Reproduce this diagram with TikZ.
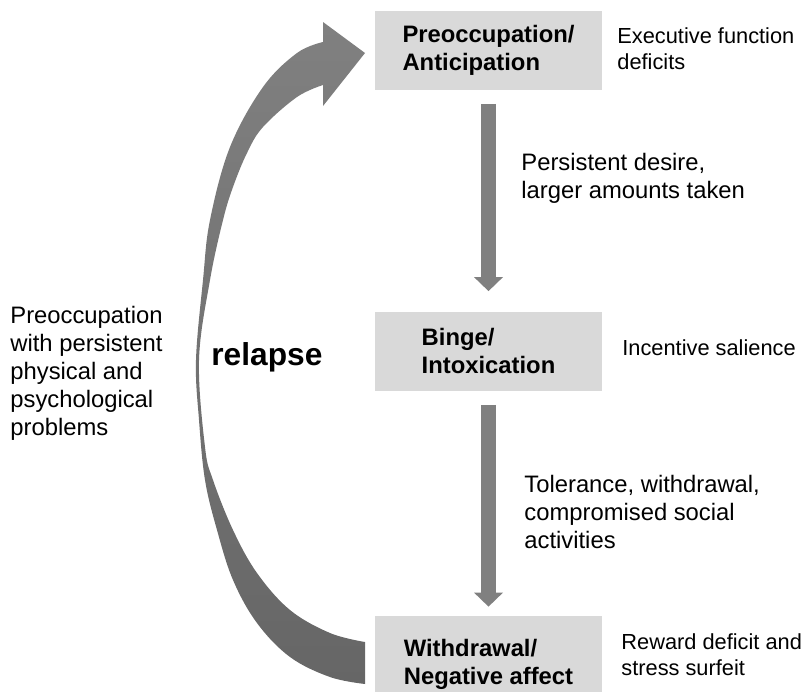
\documentclass[tikz,border=0pt]{standalone}
\usepackage{fontspec}
\setmainfont{Liberation Sans}
\usetikzlibrary{arrows.meta}
\definecolor{boxgray}{HTML}{D9D9D9}
\definecolor{arrowgray}{HTML}{808080}
\definecolor{relapsedark}{HTML}{666666}
\tikzset{
  stage/.style={fill=boxgray, minimum width=113.5pt, minimum height=39.5pt, align=left, font=\bfseries\fontsize{11.9}{14}\selectfont},
  note/.style={anchor=base west, align=left, inner sep=0pt, font=\fontsize{11.9}{14}\selectfont},
  sidenote/.style={note, font=\fontsize{10.9}{13}\selectfont},
  stagearrow/.style={draw=arrowgray, line width=7.5pt, -{Triangle[width=14.5pt,length=7pt,line width=0pt]}, shorten <=7pt}
}
\begin{document}
\begin{tikzpicture}[x=0.5pt,y=-0.5pt]
            \useasboundingbox (0,0) rectangle (806,691);
            \node[stage] (preocc) at (488.5,50) {Preoccupation/\\Anticipation};
            \node[stage] (binge) at (488.5,351) {Binge/\\Intoxication};
            \node[stage, minimum height=48pt] (withdr) at (488.5,664) {Withdrawal/\\Negative affect};
            \draw[stagearrow, shorten >=10pt] (preocc) -- (binge);
            \draw[stagearrow, shorten >=4.5pt] (binge) -- (withdr);
            % relapse arrow
            \shade[top color=arrowgray, bottom color=relapsedark]
              plot[smooth, tension=0.6] coordinates {(365,684) (330,677) (290,657) (257,623) (233,580) (217,530) (205,480) (199,420) (196,360) (203,280) (210,220) (230,147) (263,87) (297,53) (323,42)}
              -- (323,22) -- (365,53) -- (323,106) -- (323,85)
              -- plot[smooth, tension=0.6] coordinates {(323,85) (297,97) (263,127) (247,153) (233,187) (223,220) (210,280) (199,360) (205,447) (213,480) (233,530) (257,573) (290,610) (330,633) (365,642)}
              -- cycle;
            \node[note] (problems) at (10,435) {Preoccupation\\with persistent\\physical and\\psychological\\problems};
            \node[note, font=\bfseries\fontsize{15.85}{19}\selectfont] (relapse) at (211,365) {relapse};
            \foreach \x/\y/\gt/\nm in {521/198/{Persistent desire,\\larger amounts taken}/desire, 524/548/{Tolerance, withdrawal,\\compromised social\\activities}/tolerance}\path (\x,\y) node[note](\nm){\gt};
            \foreach \x/\y/\gt/\nm in {617/69/{Executive function\\deficits}/executive, 622/355/{Incentive salience}/salience, 621/675/{Reward deficit and\\stress surfeit}/reward}\path (\x,\y) node[sidenote](\nm){\gt};
        \end{tikzpicture}
\end{document}
